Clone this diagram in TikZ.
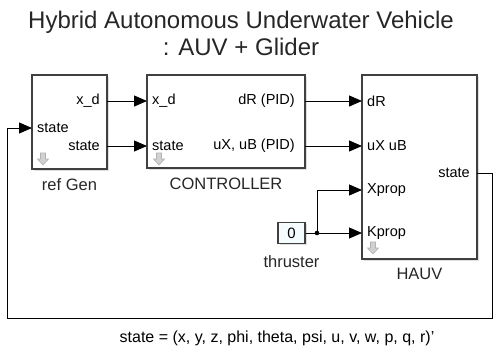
\documentclass[tikz,border=0pt]{standalone}
\usepackage{fontspec}
\setmainfont{Liberation Sans}
\usetikzlibrary{arrows.meta,positioning,shadows}

\begin{document}
\begin{tikzpicture}
  [x=1pt,y=-1pt,
   block/.style={draw=black!75,line width=1.4pt,fill=white,inner sep=0pt,
     drop shadow={shadow xshift=1.5pt,shadow yshift=-1.5pt,fill=black!25}},
   blockname/.style={font=\fontsize{16.5}{18}\selectfont,inner sep=2pt,text=black!85},
   port/.style={font=\fontsize{14.5}{16}\selectfont,inner sep=2pt},
   inport/.style={port,anchor=west,xshift=3pt},
   outport/.style={port,anchor=east,xshift=-5pt},
   heading/.style={align=center,font=\fontsize{24}{27}\selectfont,text=black!85},
   sig/.style={line width=1pt,-{Triangle[length=13pt,width=11pt]}},
   wire/.style={line width=1pt},
   mask/.pic={\filldraw[fill=black!18,draw=black!30,line width=0.6pt]
     (-2.5,-6) -- (2.5,-6) -- (2.5,0) -- (5.5,0) -- (0,6) -- (-5.5,0) -- (-2.5,0) -- cycle;}]
  \useasboundingbox (0,0) rectangle (496,346);

  \node[heading] (title) at (241,33) {Hybrid Autonomous Underwater Vehicle\\: AUV + Glider};

  % blocks
  \node[block,minimum width=75pt,minimum height=94pt] (refgen) at (69.5,122) {};
  \node[block,minimum width=158pt,minimum height=93pt] (ctrl) at (226,121.5) {};
  \node[block,minimum width=115pt,minimum height=184pt] (hauv) at (419.5,167) {};
  \node[block,minimum width=27pt,minimum height=21pt,fill=cyan!4,
        font=\fontsize{15}{16}\selectfont] (thruster) at (291.5,233) {0};

  \node[blockname,below=7pt of refgen] (refgen-name) {ref Gen};
  \node[blockname,below=7pt of ctrl] (ctrl-name) {CONTROLLER};
  \node[blockname,below=6pt of hauv] (hauv-name) {HAUV};
  \node[blockname,below=9pt of thruster] (thruster-name) {thruster};

  \pic at (43,159) {mask};
  \pic at (159,159) {mask};
  \pic at (373,248) {mask};

  % ports
  \coordinate (rg-in) at (32,128);
  \coordinate (rg-xd) at (107,101);
  \coordinate (rg-st) at (107,146);
  \coordinate (ct-xd) at (147,101);
  \coordinate (ct-st) at (147,146);
  \coordinate (ct-dr) at (305,101);
  \coordinate (ct-ux) at (305,146);
  \coordinate (hv-dr) at (362,101);
  \coordinate (hv-ux) at (362,146);
  \coordinate (hv-xp) at (362,190);
  \coordinate (hv-kp) at (362,233);
  \coordinate (hv-st) at (477,173);
  \coordinate (split) at (317,233);
  \coordinate (fb-r) at (492,318);
  \coordinate (fb-l) at (7,318);

  \node[inport] (rg-in-lbl) at (rg-in) {state};
  \node[outport] (rg-xd-lbl) at (rg-xd) {x\_d};
  \node[outport] (rg-st-lbl) at (rg-st) {state};
  \node[inport] (ct-xd-lbl) at (ct-xd) {x\_d};
  \node[inport] (ct-st-lbl) at (ct-st) {state};
  \node[outport,xshift=-3pt] (ct-dr-lbl) at (ct-dr) {dR (PID)};
  \node[outport,xshift=-3pt] (ct-ux-lbl) at (ct-ux) {uX, uB (PID)};
  \node[inport] (hv-dr-lbl) at (hv-dr) {dR};
  \node[inport] (hv-ux-lbl) at (hv-ux) {uX uB};
  \node[inport] (hv-xp-lbl) at (hv-xp) {Xprop};
  \node[inport] (hv-kp-lbl) at (hv-kp) {Kprop};
  \node[outport] (hv-st-lbl) at (hv-st) {state};

  % signals
  \draw[sig] (rg-xd) -- (ct-xd);
  \draw[sig] (rg-st) -- (ct-st);
  \draw[sig] (ct-dr) -- (hv-dr);
  \draw[sig] (ct-ux) -- (hv-ux);
  \draw[wire] (thruster.east) -- (split);
  \draw[sig] (split) -- (hv-kp);
  \draw[sig] (split) |- (hv-xp);
  \fill (split) circle (2.3pt);
  \draw[sig] (hv-st) -| (fb-r) -- (fb-l) |- (rg-in);

  \node[port,font=\fontsize{16}{17}\selectfont,anchor=base] (state-def) at (277,342)
    {state = (x, y, z, phi, theta, psi, u, v, w, p, q, r)'};
\end{tikzpicture}
\end{document}
